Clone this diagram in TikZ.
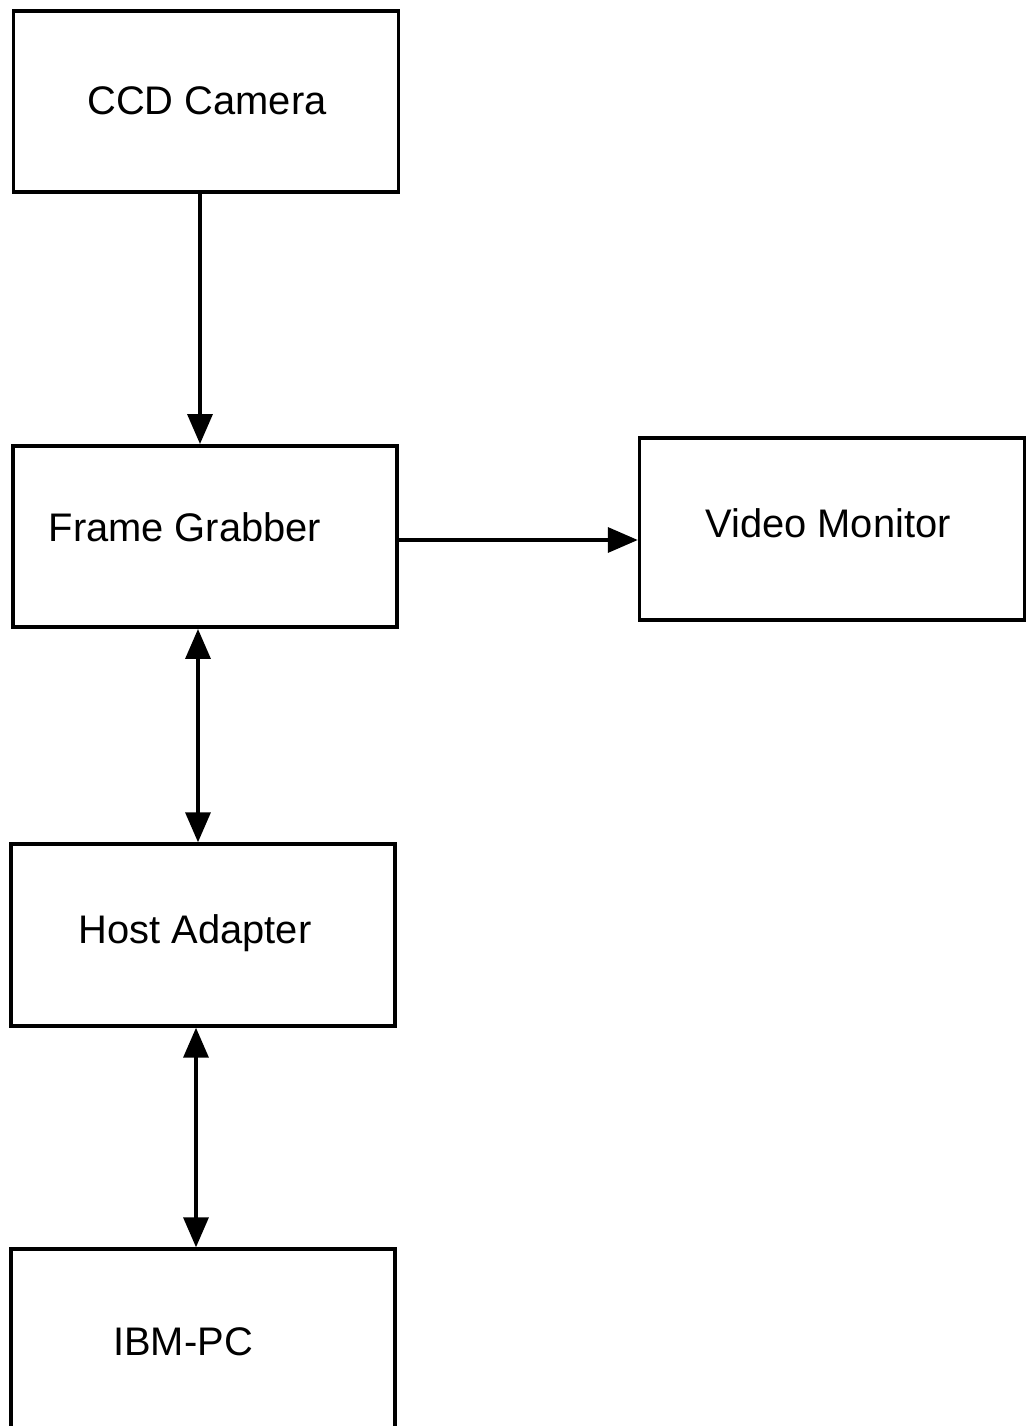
\documentclass[tikz,border=0pt]{standalone}
\usepackage{fontspec}
\setmainfont{Liberation Sans}
\usetikzlibrary{arrows.meta,positioning}

\begin{document}
\begin{tikzpicture}[
  x=0.02cm, y=-0.02cm,
  box/.style={draw, line width=2pt, minimum width=7.7cm,
              minimum height=3.63cm, inner sep=0pt},
  lbl/.style={font=\fontsize{22.7}{27}\selectfont, inner sep=0pt,
              text height=16.25pt, text depth=0pt},
  arr/.style={-{Triangle[length=0.6cm, width=0.5cm]}, line width=2pt},
  biarr/.style={{Triangle[length=0.6cm, width=0.5cm]}-{Triangle[length=0.6cm, width=0.5cm]},
                line width=2pt},
]
\useasboundingbox (0,0) rectangle (1026,1426);

%% boxes
\node[box] (ccd) at (206,101.5) {};
\node[box, minimum width=7.68cm] (fg) at (205,536.5) {};
\node[box, minimum height=3.64cm] (vm) at (832,529) {};
\node[box, minimum width=7.68cm, minimum height=3.64cm] (ha) at (203,935) {};
\node[box, minimum width=7.68cm, minimum height=3.82cm] (ibm) at (203,1344.5) {};

%% labels
\node[lbl] (ccdt) at (207,100)  {CCD Camera};
\node[lbl] (fgt)  at (185,527)  {Frame Grabber};
\node[lbl] (vmt)  at (828,523)  {Video Monitor};
\node[lbl] (hat)  at (195,929)  {Host Adapter};
\node[lbl] (ibmt) at (183,1341) {IBM-PC};

%% connections
\draw[arr]   ([xshift=-0.12cm]ccd.south) -- ([xshift=-0.1cm]fg.north);
\draw[arr]   ([yshift=-0.07cm]fg.east) -- ([yshift=-0.22cm]vm.west);
\draw[biarr] ([xshift=-0.14cm]fg.south) -- ([xshift=-0.1cm]ha.north);
\draw[biarr] ([xshift=-0.14cm]ha.south) -- ([xshift=-0.14cm]ibm.north);
\end{tikzpicture}
\end{document}
